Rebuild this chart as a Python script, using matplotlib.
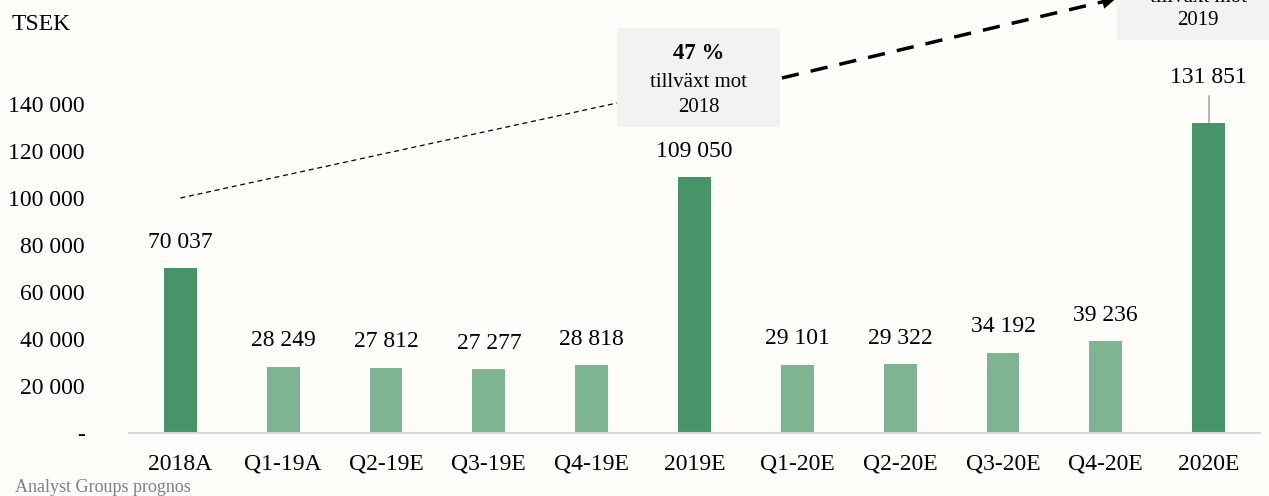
import matplotlib
matplotlib.use("Agg")
import matplotlib.pyplot as plt
from matplotlib.patches import Rectangle, FancyArrowPatch

categories = ["2018A", "Q1-19A", "Q2-19E", "Q3-19E", "Q4-19E", "2019E",
              "Q1-20E", "Q2-20E", "Q3-20E", "Q4-20E", "2020E"]
values = [70037, 28249, 27812, 27277, 28818, 109050,
          29101, 29322, 34192, 39236, 131851]
is_annual = [True, False, False, False, False, True,
             False, False, False, False, True]
yticks = [0, 20000, 40000, 60000, 80000, 100000, 120000, 140000]
growth_labels = ["47 %", "21 %"]
growth_years = ["2018", "2019"]

def fmt(v):
    return "-" if v == 0 else f"{v:,}".replace(",", " ")

plt.rcParams['font.family'] = ['Liberation Serif', 'DejaVu Serif']

bg = "#FEFDF9"
dark = "#469467"
light = "#7EB492"

fig = plt.figure(figsize=(12.69, 4.96), dpi=100, facecolor=bg)
ax = fig.add_axes([129/1269, 1-433/496, (1260-129)/1269, (433-57)/496])
ax.set_facecolor(bg)

x = list(range(len(categories)))
colors = [dark if a else light for a in is_annual]
ax.bar(x, values, width=0.32, color=colors, zorder=2)
ax.set_xlim(-0.5, len(categories) - 0.5)
ax.set_ylim(0, 160000)

ax.set_yticks(yticks)
ax.set_yticklabels([fmt(v) for v in yticks], fontsize=17)
ax.set_xticks(x)
ax.set_xticklabels(categories, fontsize=17)
ax.tick_params(axis='y', length=0, pad=32)
ax.tick_params(axis='x', length=0, pad=15)
for s in ["top", "right", "left"]:
    ax.spines[s].set_visible(False)
ax.spines["bottom"].set_color("#D9D9D9")
ax.spines["bottom"].set_linewidth(1.5)

# value labels
for i, v in enumerate(values):
    if i == len(values) - 1:
        ax.plot([i, i], [v + 500, v + 11500], color="#A6A6A6", lw=1.2, zorder=3,
                clip_on=False)
        ax.text(i, v + 19500, fmt(v), ha="center", va="center", fontsize=17,
                clip_on=False)
    else:
        ax.annotate(fmt(v), (i, v), xytext=(0, 18.5), textcoords="offset points",
                    ha="center", va="center", fontsize=17)

# growth boxes
box_specs = [  # (x0, x1, y0, y1)
    (4.247, 5.833, 130213, 172340),
    (9.11, 10.69, 167234, 215000),
]
text_y = [(161300, 149360, 138720), (196300, 185500, 175660)]
centers = [5.04, 9.9]
for k, (x0, x1, y0, y1) in enumerate(box_specs):
    ax.add_patch(Rectangle((x0, y0), x1 - x0, y1 - y0, facecolor="#F2F2F2",
                           edgecolor="none", clip_on=False, zorder=4))
    t1, t2, t3 = text_y[k]
    ax.text(centers[k], t1, growth_labels[k], ha="center", va="center",
            fontsize=16.5, fontweight="bold", clip_on=False, zorder=5)
    ax.text(centers[k], t2, "tillväxt mot", ha="center", va="center",
            fontsize=15, clip_on=False, zorder=5)
    ax.text(centers[k], t3, growth_years[k], ha="center", va="center",
            fontsize=15, clip_on=False, zorder=5)

# thin dashed line from 2018A to box 1
ax.plot([0, 4.247], [100000, 140426], color="black", lw=0.9, ls=(0, (4, 3)),
        clip_on=False, zorder=3)
# thick dashed arrow from box 1 to box 2
ax.plot([5.85, 8.98], [151064, 183600], color="black", lw=2.5, ls=(0, (5, 3.5)),
        clip_on=False, zorder=3)
arr = FancyArrowPatch((8.9, 182800), (9.13, 185300), arrowstyle="-|>",
                      mutation_scale=26, color="black", lw=0, clip_on=False,
                      zorder=3)
ax.add_patch(arr)

fig.text(12/1269, 1-25/496, "TSEK", fontsize=17, ha="left", va="center")
fig.text(15/1269, 1-487/496, "Analyst Groups prognos", fontsize=13,
         color="#808080", ha="left", va="center")

fig.savefig("out.png", dpi=100, facecolor=bg)
